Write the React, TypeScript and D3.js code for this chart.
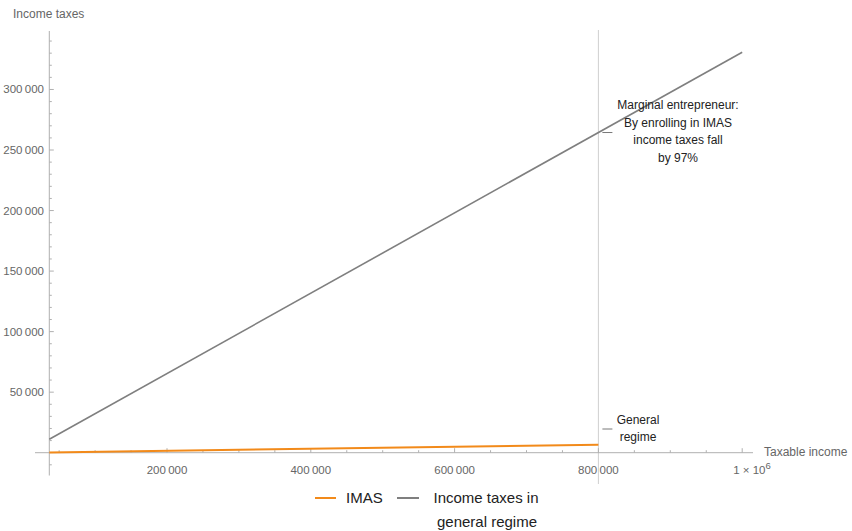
import React from "react";
import * as d3 from "d3";

const W = 852;
const H = 531;

// Data
const generalIncome = [36300, 1000000];
const generalTax = [11060, 330800];
const imasIncome = [36300, 800000];
const imasTax = [250, 6500];
const marginalIncome = 800000;
const xMajorTicks = [200000, 400000, 600000, 800000];
const xTopTick = 1000000;
const yMajorTicks = [50000, 100000, 150000, 200000, 250000, 300000];
const annotationLines = ["Marginal entrepreneur:", "By enrolling in IMAS", "income taxes fall", "by 97%"];
const generalLines = ["General", "regime"];

const FONT = "'Liberation Sans', Arial, Helvetica, sans-serif";

export default function App() {
  const x = d3.scaleLinear().domain([16410, 1015020]).range([35, 753]);
  const y = d3.scaleLinear().domain([-19000, 348300]).range([475.7, 31]);

  const axisX = x(generalIncome[0]);
  const axisY = y(0);

  const line = d3
    .line<[number, number]>()
    .x((d) => x(d[0]))
    .y((d) => y(d[1]));

  const grayPts = generalIncome.map((v, i) => [v, generalTax[i]] as [number, number]);
  const orangePts = imasIncome.map((v, i) => [v, imasTax[i]] as [number, number]);

  const fmt = (v: number) => d3.format(",")(v).replace(/,/g, "\u2009");

  const xMinor = d3.range(50000, 1000001, 50000);
  const yMinor = d3.range(-10000, 340001, 10000);

  const gInc = marginalIncome;
  const gTaxAtMarg =
    generalTax[0] +
    ((generalTax[1] - generalTax[0]) * (gInc - generalIncome[0])) / (generalIncome[1] - generalIncome[0]);
  const mx = x(marginalIncome);
  const my = y(gTaxAtMarg);

  const axisColor = "#b0b0b0";
  const labelColor = "#666";

  return (
    <div style={{ position: "absolute", left: 0, top: 0 }}>
      <svg width={W} height={H} style={{ display: "block", fontFamily: FONT }}>
        <rect width={W} height={H} fill="#fff" />
        {/* vertical marginal line */}
        <line x1={mx} x2={mx} y1={30} y2={484} stroke="#cfcfcf" strokeWidth={1} />

        {/* axes */}
        <line x1={35} x2={753} y1={axisY} y2={axisY} stroke={axisColor} strokeWidth={1} />
        <line x1={axisX} x2={axisX} y1={31} y2={475.5} stroke={axisColor} strokeWidth={1} />

        {/* x ticks */}
        {xMinor.map((v) => {
          const major = v % 200000 === 0;
          return (
            <line
              key={"xm" + v}
              x1={x(v)}
              x2={x(v)}
              y1={axisY}
              y2={axisY - (major ? 4.5 : 2.5)}
              stroke={axisColor}
              strokeWidth={1}
            />
          );
        })}
        {yMinor.map((v) => {
          const major = v % 50000 === 0;
          if (v === 0) return null;
          return (
            <line
              key={"ym" + v}
              x1={axisX}
              x2={axisX + (major ? 4.5 : 2.5)}
              y1={y(v)}
              y2={y(v)}
              stroke={axisColor}
              strokeWidth={1}
            />
          );
        })}

        {/* x labels */}
        {xMajorTicks.map((v) => (
          <text key={"xl" + v} x={x(v)} y={axisY + 21} textAnchor="middle" fontSize={11.5} fill={labelColor}>
            {fmt(v)}
          </text>
        ))}
        <text x={x(xTopTick) - 9} y={axisY + 21} fontSize={11.5} fill={labelColor}>
          1 × 10
          <tspan dy={-4.5} fontSize={9.5}>
            6
          </tspan>
        </text>

        {/* y labels */}
        {yMajorTicks.map((v) => (
          <text key={"yl" + v} x={44} y={y(v) + 4} textAnchor="end" fontSize={11.5} fill={labelColor}>
            {fmt(v)}
          </text>
        ))}

        {/* axis titles */}
        <text x={13} y={18} fontSize={12} fill={labelColor}>
          Income taxes
        </text>
        <text x={764} y={axisY + 3} fontSize={12} fill={labelColor}>
          Taxable income
        </text>

        {/* series */}
        <path d={line(grayPts) || ""} fill="none" stroke="#7f7f7f" strokeWidth={1.6} />
        <path d={line(orangePts) || ""} fill="none" stroke="#f28a1a" strokeWidth={2} />

        {/* annotation at marginal entrepreneur */}
        <line x1={mx + 4} x2={mx + 14} y1={my} y2={my} stroke="#555" strokeWidth={0.8} />
        {annotationLines.map((t, i) => (
          <text key={"an" + i} x={678} y={109 + i * 17.5} textAnchor="middle" fontSize={12} fill="#222">
            {t}
          </text>
        ))}

        {/* general regime label */}
        <line x1={mx + 4} x2={mx + 14} y1={429} y2={429} stroke="#555" strokeWidth={0.8} />
        {generalLines.map((t, i) => (
          <text key={"gr" + i} x={638} y={424 + i * 17} textAnchor="middle" fontSize={12} fill="#222">
            {t}
          </text>
        ))}

        {/* legend */}
        <line x1={315} x2={336} y1={498} y2={498} stroke="#f28a1a" strokeWidth={2} />
        <text x={346} y={503} fontSize={15} fill="#222">
          IMAS
        </text>
        <line x1={397} x2={419} y1={498} y2={498} stroke="#7f7f7f" strokeWidth={2} />
        <text x={486} y={503} textAnchor="middle" fontSize={15} fill="#222">
          Income taxes in
        </text>
        <text x={487} y={527} textAnchor="middle" fontSize={15} fill="#222">
          general regime
        </text>
      </svg>
    </div>
  );
}
